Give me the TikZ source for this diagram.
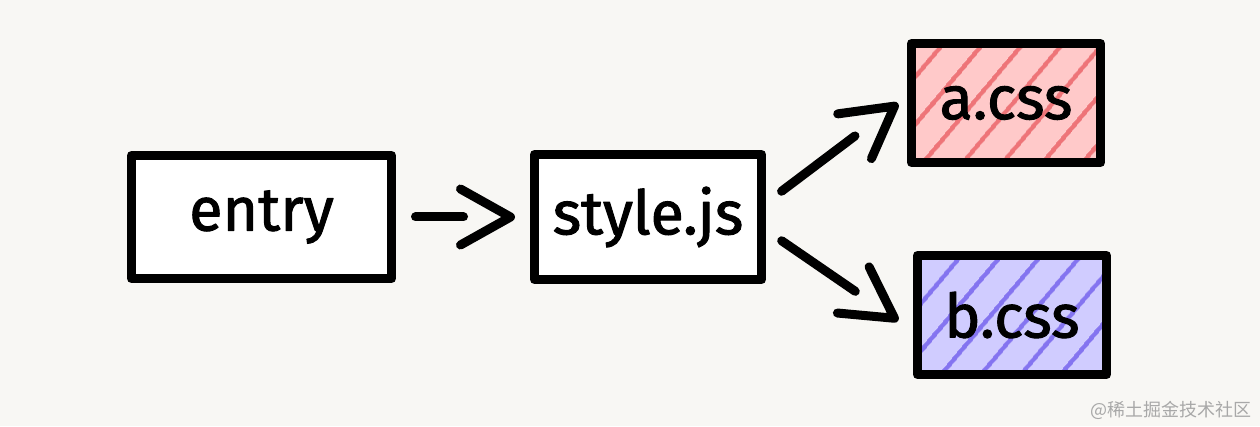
\documentclass[tikz,border=0pt]{standalone}
\usepackage{xcolor}
\usepackage{fontspec}
\setmainfont{Fira Sans}
\newfontfamily\boxfont{Fira Sans}[FakeBold=1.6]
\newfontfamily\cjkfont{Noto Sans CJK SC}
\usepackage{tikz}
\usetikzlibrary{
  positioning,
  arrows.meta,
  patterns.meta
}

\definecolor{bgcolor}{HTML}{F8F7F4}
\definecolor{pinkfill}{HTML}{FFC9C9}
\definecolor{pinkline}{HTML}{EE7478}
\definecolor{lilacfill}{HTML}{D0CCFF}
\definecolor{lilacline}{HTML}{8474F0}
\definecolor{markgray}{HTML}{A8A8A8}

\begin{document}
\begin{tikzpicture}[x=1pt,y=1pt,
  box/.style={draw,line width=9pt,line join=round,inner sep=0pt,
    font=\boxfont\fontsize{61}{61}\selectfont},
  plain/.style={box,fill=white},
  hatch/.style 2 args={box,preaction={fill=#1},
    pattern={Lines[angle=50,distance=30pt,line width=4.5pt]},pattern color=#2},
  link/.style={line width=9pt,line cap=round},
  head/.style={line width=9pt,line cap=butt,dash pattern=on 0pt off 2000pt,
    -{Straight Barb[round,length=50pt,width=56pt]}}]

  % 背景
  \fill [bgcolor] (0,0) rectangle (1260,426);
  \useasboundingbox (0,0) rectangle (1260,426);

  % ボックス
  \node [plain,minimum width=260pt,minimum height=123pt] (entry) at (261.5,209) {entry};
  \node [plain,minimum width=227pt,minimum height=125pt] (stylejs) at (648,209) {style.js};
  \node [hatch={pinkfill}{pinkline},minimum width=189pt,minimum height=119pt] (acss) at (1006,323) {a.css};
  \node [hatch={lilacfill}{lilacline},minimum width=189pt,minimum height=119pt] (bcss) at (1012,111) {b.css};

  % 矢印
  \draw [link,shorten <=19.5pt,shorten >=66.5pt] (entry) -- (stylejs);
  \draw [head,shorten >=15pt] (entry) -- (stylejs);
  \draw [link,shorten <=19.5pt,shorten >=68pt] ([yshift=14pt]stylejs.east) -- ([yshift=8pt]acss.west);
  \draw [head,shorten >=14pt] ([yshift=14pt]stylejs.east) -- ([yshift=8pt]acss.west);
  \draw [link,shorten <=19pt,shorten >=70pt] ([yshift=-13pt]stylejs.east) -- ([yshift=-16pt]bcss.west);
  \draw [head,shorten >=18pt] ([yshift=-13pt]stylejs.east) -- ([yshift=-16pt]bcss.west);

  % 透かし
  \node [font=\cjkfont\fontsize{18}{18}\selectfont,text=markgray,anchor=east] (mark) at (1255,16) {@稀土掘金技术社区};
\end{tikzpicture}
\end{document}
